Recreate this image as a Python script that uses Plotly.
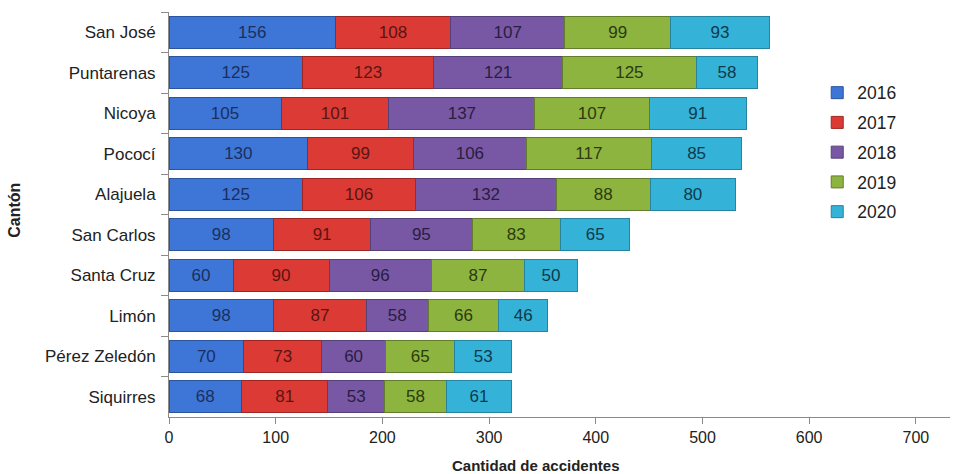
import plotly.graph_objects as go

# Accidents per canton, by year
cantones = ["San José", "Puntarenas", "Nicoya", "Pococí", "Alajuela",
            "San Carlos", "Santa Cruz", "Limón", "Pérez Zeledón", "Siquirres"]
years = ["2016", "2017", "2018", "2019", "2020"]

v2016 = [156, 125, 105, 130, 125, 98, 60, 98, 70, 68]
v2017 = [108, 123, 101, 99, 106, 91, 90, 87, 73, 81]
v2018 = [107, 121, 137, 106, 132, 95, 96, 58, 60, 53]
v2019 = [99, 125, 107, 117, 88, 83, 87, 66, 65, 58]
v2020 = [93, 58, 91, 85, 80, 65, 50, 46, 53, 61]

series = [v2016, v2017, v2018, v2019, v2020]
fills = ["#3D76D6", "#DC3A34", "#7858A4", "#8DB43F", "#35B2D7"]
edges = ["#2A559E", "#9E2622", "#54407A", "#627E2C", "#2584A0"]
text_cols = ["#1B2F5E", "#5A1512", "#2A1D40", "#2C3A10", "#0D3A4C"]

FONT = "Liberation Sans, Arial, sans-serif"

fig = go.Figure()
for name, vals, fc, ec, tc in zip(years, series, fills, edges, text_cols):
    fig.add_trace(go.Bar(
        y=cantones, x=vals, name=name, orientation="h",
        legendgroup=name,
        marker=dict(color=fc, line=dict(color=ec, width=1)),
        text=vals, textposition="inside", insidetextanchor="middle",
        textfont=dict(family=FONT, size=17, color=tc),
        constraintext="none",
    ))

fig.update_layout(
    width=964, height=474,
    barmode="stack", bargap=0.21,
    plot_bgcolor="white", paper_bgcolor="white",
    margin=dict(l=169, r=14, t=12, b=57),
    font=dict(family=FONT, size=16, color="#222"),
    uniformtext=dict(mode="show", minsize=17),
    legend=dict(
        x=0.83, y=0.845, xanchor="left", yanchor="top",
        traceorder="grouped", tracegroupgap=4,
        font=dict(family=FONT, size=17.5, color="#222"),
        bgcolor="rgba(0,0,0,0)", itemwidth=30,
    ),
    xaxis=dict(
        range=[0, 732], tickvals=[0, 100, 200, 300, 400, 500, 600, 700],
        showgrid=False, zeroline=False,
        showline=True, linecolor="#8A8A8A", linewidth=1,
        ticks="outside", ticklen=6, tickcolor="#8A8A8A",
        tickfont=dict(family=FONT, size=16, color="#222"),
    ),
    yaxis=dict(
        autorange="reversed", showgrid=False, zeroline=False,
        showline=True, linecolor="#8A8A8A", linewidth=1,
        ticks="outside", ticklen=7, tickcolor="#8A8A8A",
        tickson="boundaries", ticklabelstandoff=9,
        tickfont=dict(family=FONT, size=17, color="#222"),
    ),
    annotations=[
        dict(text="<b>Cantidad de accidentes</b>", xref="paper", yref="paper",
             x=0.47, y=-0.12, xanchor="center", yanchor="middle",
             showarrow=False, font=dict(family=FONT, size=15, color="#222")),
        dict(text="<b>Cantón</b>", xref="paper", yref="paper",
             x=-0.198, y=0.51, xanchor="center", yanchor="middle", textangle=-90,
             showarrow=False,
             font=dict(family=FONT, size=16, color="#222")),
    ],
)

fig.write_html("out.html")
